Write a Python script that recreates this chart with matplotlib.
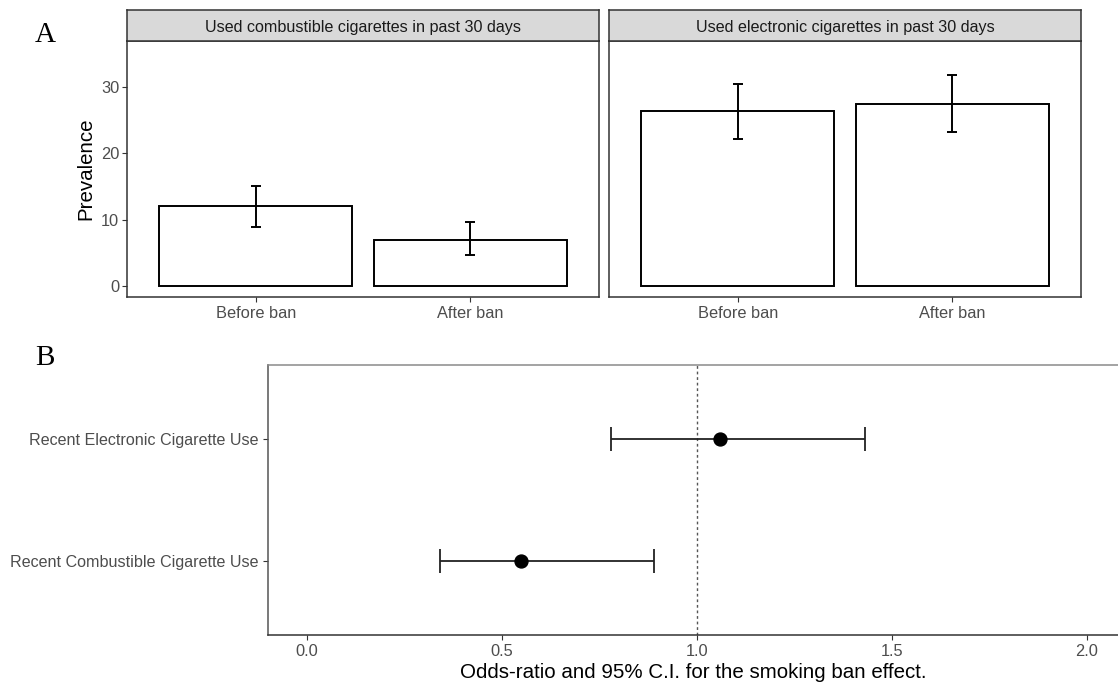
import matplotlib.pyplot as plt
import numpy as np

plt.rcParams['font.family'] = ['Liberation Sans', 'DejaVu Sans']

# panel A data
periods = ['Before ban', 'After ban']
facet_titles = ['Used combustible cigarettes in past 30 days',
                'Used electronic cigarettes in past 30 days']
comb_prev = [12.0, 7.0]
comb_lo = [8.95, 4.65]
comb_hi = [15.1, 9.65]
ecig_prev = [26.3, 27.45]
ecig_lo = [22.2, 23.25]
ecig_hi = [30.5, 31.85]

# panel B data
outcomes = ['Recent Combustible Cigarette Use', 'Recent Electronic Cigarette Use']
odds = [0.55, 1.06]
or_lo = [0.34, 0.78]
or_hi = [0.89, 1.43]

W, H = 1118, 686
fig = plt.figure(figsize=(W / 100, H / 100), dpi=100)

def box(x0, y0, x1, y1):
    return [x0 / W, 1 - y1 / H, (x1 - x0) / W, (y1 - y0) / H]

tick_col = '#4D4D4D'
frame_col = '#333333'

panels = [(127, 599, comb_prev, comb_lo, comb_hi, facet_titles[0]),
          (609, 1081, ecig_prev, ecig_lo, ecig_hi, facet_titles[1])]

for i, (x0, x1, prev, lo, hi, title) in enumerate(panels):
    ax = fig.add_axes(box(x0, 41, x1, 297))
    xs = np.arange(1, len(periods) + 1)
    prev = np.array(prev)
    ax.bar(xs, prev, width=0.9, facecolor='white', edgecolor='black', linewidth=1.4)
    ax.errorbar(xs, prev, yerr=[prev - np.array(lo), np.array(hi) - prev],
                fmt='none', ecolor='black', elinewidth=1.4, capsize=3.9, capthick=1.4)
    ax.set_xlim(0.4, 2.6)
    ax.set_ylim(-1.65, 36.9)
    ax.set_xticks(xs)
    ax.set_xticklabels(periods, fontsize=11.8, color=tick_col)
    ax.set_yticks([0, 10, 20, 30])
    if i == 0:
        ax.set_yticklabels(['0', '10', '20', '30'], fontsize=11.8, color=tick_col)
        ax.set_ylabel('Prevalence', fontsize=14.8, labelpad=4)
        ax.tick_params(axis='y', length=3.5, width=0.8, color=frame_col, pad=2)
    else:
        ax.tick_params(axis='y', length=0, labelleft=False)
    ax.tick_params(axis='x', length=3.5, width=0.8, color=frame_col, pad=3)
    for s in ax.spines.values():
        s.set_color(frame_col)
        s.set_linewidth(1.1)

    strip = fig.add_axes(box(x0, 10, x1, 41))
    strip.set_facecolor('#D9D9D9')
    strip.set_xticks([])
    strip.set_yticks([])
    for s in strip.spines.values():
        s.set_color(frame_col)
        s.set_linewidth(1.1)
    strip.text(0.5, 0.45, title, ha='center', va='center', fontsize=11.6,
               color='#1A1A1A', transform=strip.transAxes)

# panel B: forest plot
axb = fig.add_axes(box(268, 365, 1118, 635))
ys = np.arange(1, len(outcomes) + 1)
odds = np.array(odds)
axb.axvline(1.0, color='#555555', linestyle=(0, (2, 2)), linewidth=1.0, zorder=1)
axb.errorbar(odds, ys, xerr=[odds - np.array(or_lo), np.array(or_hi) - odds],
             fmt='o', color='black', ecolor='#222222', markersize=9.3,
             elinewidth=1.3, capsize=8.6, capthick=1.3, zorder=3)
axb.set_xlim(-0.1, 2.08)
axb.set_ylim(0.4, 2.6)
axb.set_yticks(ys)
axb.set_yticklabels(outcomes, fontsize=11.6, color=tick_col)
axb.set_xticks([0.0, 0.5, 1.0, 1.5, 2.0])
axb.set_xticklabels(['0.0', '0.5', '1.0', '1.5', '2.0'], fontsize=11.8, color=tick_col)
axb.tick_params(length=3.5, width=0.8, color=frame_col, pad=3)
axb.set_xlabel('Odds-ratio and 95% C.I. for the smoking ban effect.', fontsize=14.8, labelpad=3)
axb.spines['right'].set_visible(False)
axb.spines['top'].set_color('#8A8A8A')
axb.spines['left'].set_color('#555555')
axb.spines['bottom'].set_color(frame_col)
for s in axb.spines.values():
    s.set_linewidth(1.1)

fig.text(35 / W, 1 - 35 / H, 'A', fontsize=21, family='Liberation Serif', va='center')
fig.text(35 / W, 1 - 358 / H, 'B', fontsize=21, family='Liberation Serif', va='center')

fig.savefig('out.png', dpi=100)
